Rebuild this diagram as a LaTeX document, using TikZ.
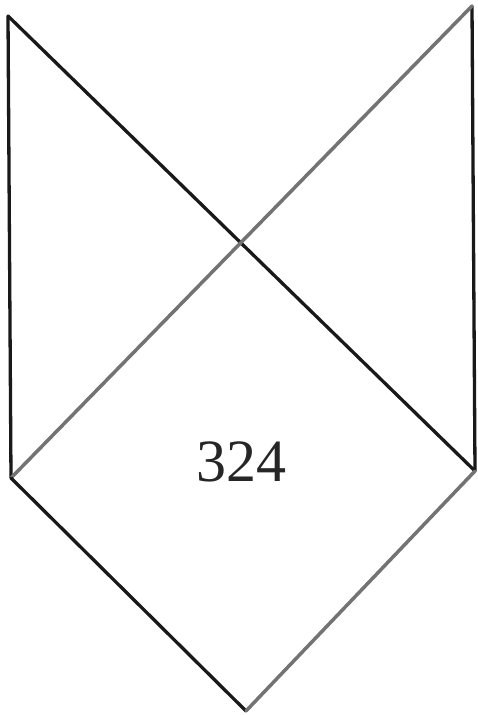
\documentclass[tikz,border=0pt]{standalone}
\usepackage{fontspec}
\setmainfont{Liberation Serif}
\begin{document}
\begin{tikzpicture}[x=1pt,y=-1pt,
  blk/.style={draw=black!90,line width=3.3pt,line cap=round,line join=round},
  gry/.style={draw=black!55,line width=3.5pt,line cap=round,line join=round}]
\useasboundingbox (0,0) rectangle (477,715);
\coordinate (tl) at (8,16);
\coordinate (tr) at (472,6);
\coordinate (bl) at (11,478);
\coordinate (br) at (475,471);
\coordinate (bot) at (246,711);
\draw[blk] (tl) -- (bl);
\draw[blk] (tr) -- (br);
\draw[blk] (tl) -- (br);
\draw[gry] (tr) -- (bl);
\draw[blk] (bl) -- (bot);
\draw[gry] (bot) -- (br);
\node[font=\fontsize{60}{60}\selectfont,text=black!85] (lbl) at (241,462) {324};
\end{tikzpicture}
\end{document}
